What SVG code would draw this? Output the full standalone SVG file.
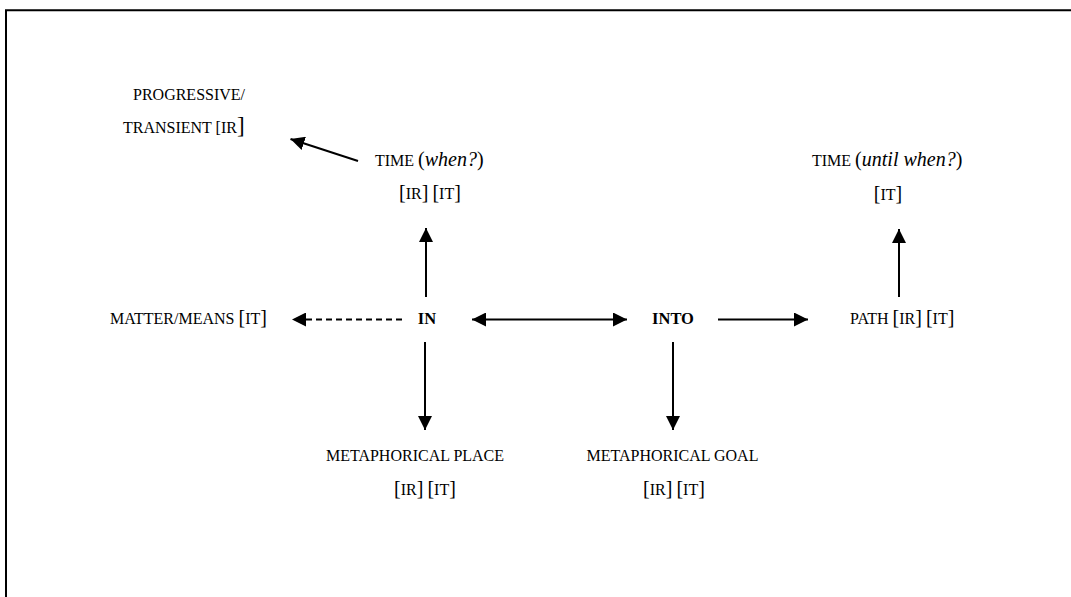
<svg xmlns="http://www.w3.org/2000/svg" width="1071" height="597" viewBox="0 0 1071 597">
  <style>
    text { font-family: "Liberation Serif", "Times New Roman", serif; font-size: 16px; fill: #000; }
    .c { text-anchor: middle; }
    .b { font-weight: bold; font-size: 16.5px; }
    .i { font-style: italic; font-size: 20px; }
    .br { font-size: 20px; }
    .ln { stroke: #000; stroke-width: 2; fill: none; }
    .dash { stroke-dasharray: 6 4; }
  </style>
  <defs>
    <marker id="ah" viewBox="0 0 14 14" refX="14" refY="7" markerWidth="14" markerHeight="14" markerUnits="userSpaceOnUse" orient="auto-start-reverse">
      <path d="M0,0 L14,7 L0,14 Z" fill="#000"/>
    </marker>
  </defs>
  <rect width="1071" height="597" fill="#fff"/>

  <!-- frame: top and left edges only -->
  <path class="ln" d="M6,597 V10.3 H1071"/>

  <g id="progressive">
    <text x="133" y="100">PROGRESSIVE/</text>
    <text x="123" y="133">TRANSIENT [IR<tspan font-size="23">]</tspan></text>
  </g>
  <g id="time-when">
    <text x="375" y="166">TIME <tspan class="br">(</tspan><tspan class="i">when?</tspan><tspan class="br">)</tspan></text>
    <text class="c" x="430" y="199"><tspan class="br">[</tspan>IR<tspan class="br">]</tspan> <tspan class="br">[</tspan>IT<tspan class="br">]</tspan></text>
  </g>
  <g id="time-until">
    <text x="812" y="166">TIME <tspan class="br">(</tspan><tspan class="i">until when?</tspan><tspan class="br">)</tspan></text>
    <text class="c" x="888" y="200"><tspan class="br">[</tspan>IT<tspan class="br">]</tspan></text>
  </g>
  <g id="matter">
    <text x="110" y="324">MATTER/MEANS <tspan class="br">[</tspan>IT<tspan class="br">]</tspan></text>
  </g>
  <g id="in">
    <text class="b c" x="427" y="324">IN</text>
  </g>
  <g id="into">
    <text class="b c" x="673" y="324">INTO</text>
  </g>
  <g id="path">
    <text x="850" y="324">PATH <tspan class="br">[</tspan>IR<tspan class="br">]</tspan> <tspan class="br">[</tspan>IT<tspan class="br">]</tspan></text>
  </g>
  <g id="place">
    <text class="c" x="415" y="461">METAPHORICAL PLACE</text>
    <text class="c" x="425" y="495"><tspan class="br">[</tspan>IR<tspan class="br">]</tspan> <tspan class="br">[</tspan>IT<tspan class="br">]</tspan></text>
  </g>
  <g id="goal">
    <text class="c" x="672.5" y="461">METAPHORICAL GOAL</text>
    <text class="c" x="674" y="495"><tspan class="br">[</tspan>IR<tspan class="br">]</tspan> <tspan class="br">[</tspan>IT<tspan class="br">]</tspan></text>
  </g>

  <g id="connectors">
    <line class="ln" x1="358" y1="161" x2="290.5" y2="139" marker-end="url(#ah)"/>
    <line class="ln" x1="426" y1="297" x2="426" y2="228" marker-end="url(#ah)"/>
    <line class="ln" x1="899" y1="297" x2="899" y2="229" marker-end="url(#ah)"/>
    <line class="ln dash" x1="402" y1="319.5" x2="292" y2="319.5" marker-end="url(#ah)"/>
    <line class="ln" x1="472" y1="319.5" x2="627" y2="319.5" marker-start="url(#ah)" marker-end="url(#ah)"/>
    <line class="ln" x1="718" y1="319.5" x2="808" y2="319.5" marker-end="url(#ah)"/>
    <line class="ln" x1="425" y1="342" x2="425" y2="430" marker-end="url(#ah)"/>
    <line class="ln" x1="673" y1="342" x2="673" y2="430" marker-end="url(#ah)"/>
  </g>
</svg>
